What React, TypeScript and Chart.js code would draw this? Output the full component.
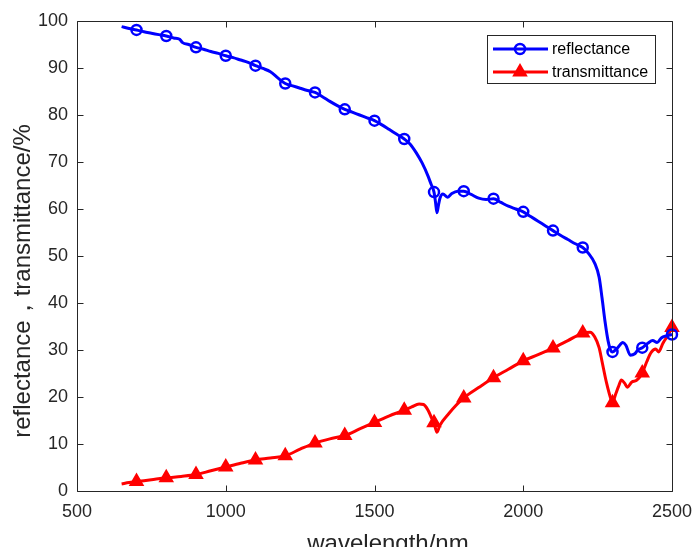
import React, { useEffect, useRef } from "react";
import { Chart, registerables } from "chart.js";

Chart.register(...registerables);

const wavelengthR = [650, 675, 700, 725, 750, 775, 800, 825, 845, 855, 875, 900, 925, 950, 975, 1000, 1025, 1050, 1075, 1100, 1125, 1150, 1175, 1200, 1225, 1250, 1275, 1300, 1325, 1350, 1375, 1400, 1425, 1450, 1475, 1500, 1525, 1550, 1575, 1600, 1620, 1640, 1660, 1680, 1690, 1700, 1705, 1710, 1715, 1720, 1730, 1745, 1760, 1780, 1800, 1825, 1850, 1875, 1900, 1925, 1950, 1975, 2000, 2025, 2050, 2075, 2100, 2125, 2150, 2175, 2200, 2220, 2240, 2255, 2265, 2275, 2285, 2295, 2300, 2315, 2335, 2345, 2360, 2375, 2385, 2400, 2420, 2435, 2450, 2465, 2480, 2500];
const reflectance = [98.8, 98.4, 98.1, 97.7, 97.4, 97.1, 96.8, 96.4, 96.1, 95.4, 95.0, 94.4, 94.0, 93.5, 93.1, 92.6, 92.2, 91.7, 91.2, 90.5, 89.9, 89.2, 87.9, 86.7, 86.2, 85.7, 85.2, 84.8, 83.9, 82.9, 82.0, 81.2, 80.6, 80.0, 79.4, 78.8, 77.9, 76.9, 75.9, 74.9, 73.8, 72.0, 69.8, 67.0, 65.3, 63.6, 61.5, 59.2, 60.8, 62.3, 63.2, 62.5, 63.3, 63.8, 63.8, 63.1, 62.3, 62.0, 62.2, 61.4, 60.6, 60.0, 59.4, 58.4, 57.4, 56.4, 55.4, 54.4, 53.5, 52.6, 51.8, 50.5, 48.5, 45.5, 41.0, 36.0, 32.0, 29.8, 29.6, 30.3, 31.6, 31.0, 28.9, 29.2, 30.0, 30.5, 31.5, 32.0, 31.6, 32.6, 33.0, 33.3];

const wavelengthT = [650, 675, 700, 750, 800, 850, 900, 950, 1000, 1050, 1100, 1150, 1200, 1250, 1300, 1350, 1400, 1450, 1500, 1550, 1600, 1625, 1650, 1665, 1680, 1690, 1700, 1710, 1720, 1750, 1800, 1850, 1900, 1950, 2000, 2050, 2100, 2150, 2200, 2225, 2240, 2255, 2265, 2280, 2295, 2300, 2310, 2320, 2330, 2340, 2350, 2365, 2380, 2400, 2415, 2430, 2445, 2455, 2470, 2485, 2500];
const transmittance = [1.5, 1.8, 2.0, 2.4, 2.8, 3.1, 3.5, 4.3, 5.1, 5.9, 6.6, 7.0, 7.5, 8.9, 10.2, 11.1, 11.8, 13.2, 14.6, 16.0, 17.2, 17.9, 18.5, 18.4, 17.2, 15.8, 14.5, 12.5, 14.0, 16.5, 19.8, 22.0, 24.1, 25.9, 27.7, 29.0, 30.4, 32.0, 33.6, 33.8, 32.8, 30.5, 27.5, 23.0, 19.5, 18.8, 20.5, 22.2, 23.6, 23.0, 22.1, 23.2, 23.5, 25.1, 27.5, 29.5, 30.2, 29.6, 31.5, 33.0, 34.8];

const markerWavelengths = [700, 800, 900, 1000, 1100, 1200, 1300, 1400, 1500, 1600, 1700, 1800, 1900, 2000, 2100, 2200, 2300, 2400, 2500];
const xTicks = [500, 1000, 1500, 2000, 2500];
const yTicks = [0, 10, 20, 30, 40, 50, 60, 70, 80, 90, 100];
const seriesNames = ["reflectance", "transmittance"];
const xTitle = "wavelength/nm";
const yTitle = "reflectance，transmittance/%";

const BLUE = "#0000ff";
const RED = "#ff0000";
const AXIS = "#262626";
const FONT = "'Liberation Sans', Arial, sans-serif";

const W = 692;
const H = 547;
const AREA = { left: 77, right: 672, top: 21, bottom: 491 };

function drawCircle(ctx: CanvasRenderingContext2D, x: number, y: number) {
  ctx.beginPath();
  ctx.arc(x, y, 5, 0, Math.PI * 2);
  ctx.strokeStyle = BLUE;
  ctx.lineWidth = 2.5;
  ctx.stroke();
}
function drawTri(ctx: CanvasRenderingContext2D, x: number, y: number) {
  const r = 7;
  ctx.beginPath();
  ctx.moveTo(x, y - r);
  ctx.lineTo(x + r * Math.cos(Math.PI / 6), y + r / 2);
  ctx.lineTo(x - r * Math.cos(Math.PI / 6), y + r / 2);
  ctx.closePath();
  ctx.fillStyle = RED;
  ctx.fill();
  ctx.strokeStyle = RED;
  ctx.lineWidth = 2;
  ctx.stroke();
}

const framePlugin = {
  id: "matlabFrame",
  afterDraw(chart: any) {
    const { ctx, chartArea: a, scales } = chart;
    ctx.save();
    ctx.strokeStyle = AXIS;
    ctx.lineWidth = 1;
    const L = Math.round(a.left) + 0.5;
    const R = Math.round(a.right) + 0.5;
    const T = Math.round(a.top) + 0.5;
    const B = Math.round(a.bottom) + 0.5;
    ctx.beginPath();
    ctx.moveTo(L, T);
    ctx.lineTo(R, T);
    ctx.lineTo(R, B);
    ctx.lineTo(L, B);
    ctx.closePath();
    ctx.stroke();
    const tl = 6;
    ctx.beginPath();
    xTicks.forEach((v) => {
      const px = Math.round(scales.x.getPixelForValue(v)) + 0.5;
      ctx.moveTo(px, B);
      ctx.lineTo(px, B - tl);
      ctx.moveTo(px, T);
      ctx.lineTo(px, T + tl);
    });
    yTicks.forEach((v) => {
      const py = Math.round(scales.y.getPixelForValue(v)) + 0.5;
      ctx.moveTo(L, py);
      ctx.lineTo(L + tl, py);
      ctx.moveTo(R, py);
      ctx.lineTo(R - tl, py);
    });
    ctx.stroke();

    // legend
    const lx = 487, ly = 35, lw = 168, lh = 48;
    ctx.fillStyle = "#ffffff";
    ctx.fillRect(lx, ly, lw, lh);
    ctx.strokeStyle = AXIS;
    ctx.lineWidth = 1;
    ctx.strokeRect(lx + 0.5, ly + 0.5, lw, lh);
    const rows = [49, 72];
    ctx.font = `16px ${FONT}`;
    ctx.textBaseline = "middle";
    ctx.textAlign = "left";
    rows.forEach((ry, i) => {
      ctx.beginPath();
      ctx.moveTo(493, ry);
      ctx.lineTo(548, ry);
      ctx.strokeStyle = i === 0 ? BLUE : RED;
      ctx.lineWidth = 3;
      ctx.stroke();
      if (i === 0) drawCircle(ctx, 520, ry);
      else drawTri(ctx, 520, ry);
      ctx.fillStyle = "#000000";
      ctx.fillText(seriesNames[i], 552, ry + 1);
    });

    // titles
    ctx.fillStyle = AXIS;
    ctx.font = `24px ${FONT}`;
    ctx.textAlign = "center";
    ctx.textBaseline = "alphabetic";
    ctx.fillText(xTitle, 388, 551);
    ctx.save();
    ctx.translate(30, 281);
    ctx.rotate(-Math.PI / 2);
    ctx.fillText(yTitle, 0, 0);
    ctx.restore();
    ctx.restore();
  },
};

export default function App() {
  const ref = useRef<HTMLCanvasElement | null>(null);
  useEffect(() => {
    if (!ref.current) return;
    const chart = new Chart(ref.current, {
      type: "line",
      data: {
        datasets: [
          {
            label: seriesNames[0],
            data: wavelengthR.map((x, i) => ({ x, y: reflectance[i] })),
            borderColor: BLUE,
            backgroundColor: "rgba(0,0,0,0)",
            borderWidth: 3,
            pointStyle: "circle",
            pointRadius: (c: any) => (markerWavelengths.includes(c.raw?.x) ? 5 : 0),
            pointBorderWidth: 2.5,
            pointBorderColor: BLUE,
            pointBackgroundColor: "rgba(0,0,0,0)",
            cubicInterpolationMode: "monotone",
            clip: false,
          },
          {
            label: seriesNames[1],
            data: wavelengthT.map((x, i) => ({ x, y: transmittance[i] })),
            borderColor: RED,
            backgroundColor: RED,
            borderWidth: 3,
            pointStyle: "triangle",
            pointRadius: (c: any) => (markerWavelengths.includes(c.raw?.x) ? 7 : 0),
            pointBorderWidth: 2,
            pointBorderColor: RED,
            pointBackgroundColor: RED,
            cubicInterpolationMode: "monotone",
            clip: false,
          },
        ],
      },
      options: {
        animation: false,
        responsive: true,
        maintainAspectRatio: false,
        events: [],
        layout: {
          padding: { left: 0, top: AREA.top, right: W - AREA.right, bottom: 0 },
        },
        plugins: { legend: { display: false }, tooltip: { enabled: false } },
        scales: {
          x: {
            type: "linear",
            min: 500,
            max: 2500,
            grid: { display: false, drawTicks: false },
            border: { display: false },
            afterBuildTicks: (s: any) => {
              s.ticks = xTicks.map((v) => ({ value: v }));
            },
            afterFit: (s: any) => {
              s.height = H - AREA.bottom;
              s.paddingLeft = 0;
              s.paddingRight = 0;
            },
            ticks: {
              color: AXIS,
              font: { family: FONT, size: 18 },
              padding: 10,
              maxRotation: 0,
              autoSkip: false,
              callback: (v: any) => String(v),
            },
          },
          y: {
            type: "linear",
            min: 0,
            max: 100,
            grid: { display: false, drawTicks: false },
            border: { display: false },
            afterBuildTicks: (s: any) => {
              s.ticks = yTicks.map((v) => ({ value: v }));
            },
            afterFit: (s: any) => {
              s.width = AREA.left;
              s.paddingTop = 0;
              s.paddingBottom = 0;
            },
            ticks: {
              color: AXIS,
              font: { family: FONT, size: 18 },
              padding: 9,
              autoSkip: false,
              callback: (v: any) => String(v),
            },
          },
        },
      },
      plugins: [framePlugin],
    } as any);
    return () => chart.destroy();
  }, []);
  return (
    <div style={{ position: "absolute", left: 0, top: 0, width: W, height: H, background: "#fff" }}>
      <canvas ref={ref} />
    </div>
  );
}
